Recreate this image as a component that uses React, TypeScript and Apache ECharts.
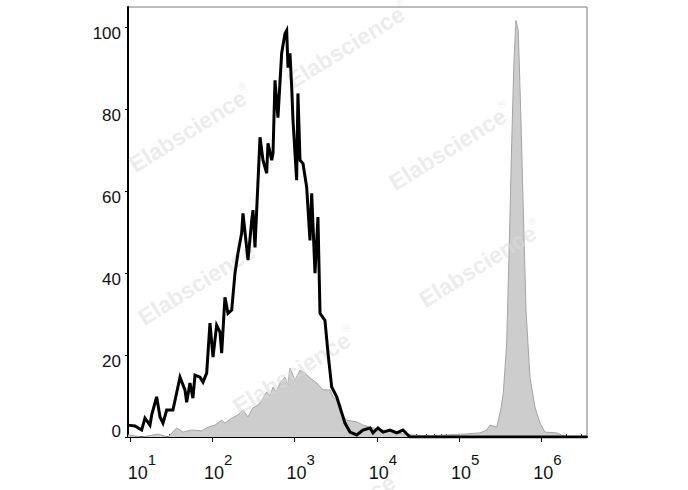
import React, { useEffect, useRef } from "react";
import * as echarts from "echarts";

// x = log10(fluorescence intensity), y = cell count (% of max)
const controlCurve: [number, number][] = [
  [0.976, 2.9], [1.061, 2.7], [1.142, 1.7], [1.182, 4.6], [1.243, 2.9], [1.264, 5.4],
  [1.324, 9.8], [1.365, 4.9], [1.401, 3.4], [1.446, 6.6], [1.522, 6.6], [1.608, 14.6],
  [1.668, 11.5], [1.689, 8.5], [1.729, 13.2], [1.765, 9.5], [1.79, 15.1], [1.851, 14.6],
  [1.887, 13.4], [1.932, 15.6], [1.972, 27.8], [2.009, 19.5], [2.053, 27.3], [2.094, 25.6],
  [2.114, 20.5], [2.154, 34.1], [2.191, 30.2], [2.236, 31.0], [2.276, 40.0], [2.312, 44.9],
  [2.357, 49.8], [2.373, 54.6], [2.434, 43.2], [2.479, 52.9], [2.495, 55.4], [2.519, 46.3],
  [2.58, 73.2], [2.616, 67.6], [2.661, 64.4], [2.677, 71.7], [2.722, 67.6], [2.738, 69.3],
  [2.762, 87.1], [2.798, 78.0], [2.843, 93.7], [2.883, 98.5], [2.904, 99.3], [2.92, 90.2],
  [2.944, 93.7], [2.965, 85.4], [2.981, 77.3], [3.025, 62.7], [3.041, 83.9], [3.066, 67.6],
  [3.102, 66.8], [3.147, 61.0], [3.187, 48.0], [3.208, 59.5], [3.248, 40.0], [3.284, 53.7],
  [3.309, 30.2], [3.369, 28.5], [3.406, 20.5], [3.451, 12.2], [3.512, 9.8], [3.552, 7.3],
  [3.612, 3.4], [3.673, 1.2], [3.755, 0.5], [3.831, 1.7], [3.916, 2.2], [3.953, 1.0],
  [4.013, 2.2], [4.074, 1.2], [4.159, 1.7], [4.241, 1.0], [4.317, 1.7], [4.402, 0],
  [6.553, 0],
];

const stainedCurve: [number, number][] = [
  [0.976, 0.5], [1.142, 0], [1.34, 0.7], [1.462, 0], [1.567, 2.2], [1.644, 1.2],
  [1.75, 1.7], [1.871, 1.5], [1.948, 2.4], [2.033, 2.9], [2.114, 4.1], [2.154, 3.4],
  [2.236, 4.6], [2.312, 5.4], [2.373, 6.6], [2.434, 4.9], [2.495, 7.1], [2.555, 7.8],
  [2.604, 9.0], [2.661, 11.0], [2.701, 10.0], [2.738, 12.2], [2.774, 11.0], [2.823, 13.2],
  [2.883, 14.6], [2.92, 12.7], [2.944, 16.8], [3.005, 13.9], [3.066, 16.3], [3.126, 15.6],
  [3.187, 14.4], [3.269, 13.2], [3.345, 11.5], [3.43, 11.5], [3.467, 9.8], [3.512, 9.0],
  [3.552, 6.1], [3.633, 4.1], [3.755, 3.7], [3.831, 2.9], [3.916, 2.4], [4.074, 1.7],
  [4.241, 1.0], [4.402, 0.5], [4.645, 0.3], [5.046, 0.7], [5.253, 1.0], [5.334, 1.7],
  [5.374, 2.9], [5.456, 2.4], [5.504, 6.6], [5.536, 10.7], [5.577, 22.9], [5.609, 47.3],
  [5.638, 71.7], [5.666, 92.0], [5.69, 101.7], [5.718, 99.3], [5.747, 79.8], [5.779, 55.4],
  [5.812, 31.0], [5.86, 14.6], [5.921, 7.3], [5.982, 3.4], [6.042, 1.2], [6.185, 1.0],
  [6.261, 0.3], [6.35, 0], [6.553, 0],
];

const decadeTicks = [1, 2, 3, 4, 5, 6];
const countTicks = [0, 20, 40, 60, 80, 100];

const X_MIN = 0.976;
const X_MAX = 6.553;

const minorTicks: number[] = [];
for (const d of [0, 1, 2, 3, 4, 5, 6]) {
  for (let k = 2; k <= 9; k++) {
    const v = d + Math.log10(k);
    if (v > X_MIN && v < X_MAX) minorTicks.push(v);
  }
}

const FONT = "'Liberation Sans', Arial, sans-serif";

const watermarks: [number, number][] = [
  [190, 128], [348, 44], [450, 146], [480, 263], [199, 281], [294, 370], [339, 512],
];

export default function App() {
  const ref = useRef<HTMLDivElement>(null);
  useEffect(() => {
    if (!ref.current) return;
    const chart = echarts.init(ref.current, null, { renderer: "svg" });
    chart.setOption({
      animation: false,
      backgroundColor: "#ffffff",
      grid: {
        left: 128,
        top: 7,
        right: 101,
        bottom: 53,
        show: true,
        borderColor: "#7a7a7a",
        borderWidth: 1,
        backgroundColor: "transparent",
      },
      xAxis: [
        {
          type: "value",
          min: X_MIN,
          max: X_MAX,
          splitLine: { show: false },
          axisLine: { show: true, onZero: false, lineStyle: { color: "#000", width: 2 } },
          axisTick: {
            show: true,
            customValues: decadeTicks,
            length: 5,
            lineStyle: { color: "#000", width: 1 },
          },
          axisLabel: {
            customValues: decadeTicks,
            margin: 15,
            align: "center",
            padding: [0, 0, 0, 12],
            formatter: (v: number) =>
              Math.round(v) === 1
                ? `{p| }{b|10}{s|${Math.round(v)}}`
                : `{b|10}{s|${Math.round(v)}}`,
            rich: {
              p: { width: 12, fontSize: 18 },
              b: { fontSize: 18, fontFamily: FONT, color: "#111", lineHeight: 30, verticalAlign: "bottom" },
              s: { fontSize: 15, fontFamily: FONT, color: "#111", lineHeight: 30, verticalAlign: "top" },
            },
          },
        },
        {
          type: "value",
          min: X_MIN,
          max: X_MAX,
          position: "bottom",
          splitLine: { show: false },
          axisLine: { show: false, onZero: false },
          axisLabel: { show: false },
          axisTick: {
            show: true,
            inside: true,
            customValues: minorTicks,
            length: 3,
            lineStyle: { color: "#333", width: 1 },
          },
        },
      ],
      yAxis: {
        type: "value",
        min: 0,
        max: 105,
        splitLine: { show: false },
        axisLine: { show: true, onZero: false, lineStyle: { color: "#000", width: 2 } },
        axisTick: { show: true, customValues: countTicks, length: 3, lineStyle: { color: "#000" } },
        axisLabel: {
          customValues: countTicks,
          margin: 7,
          formatter: (v: number) => (v === 0 ? `{z|0}` : `{n|${v}}`),
          rich: {
            n: { fontSize: 17, fontFamily: FONT, color: "#111", padding: [12, 0, 0, 0] },
            z: { fontSize: 17, fontFamily: FONT, color: "#111", padding: [0, 0, 12, 0] },
          },
        },
      },
      series: [
        {
          name: "Stained",
          type: "line",
          data: stainedCurve,
          showSymbol: false,
          symbol: "none",
          z: 2,
          lineStyle: { color: "#a3a3a3", width: 1 },
          areaStyle: { color: "#cdcdcd", opacity: 1, origin: "start" },
        },
        {
          name: "Control",
          type: "line",
          data: controlCurve,
          showSymbol: false,
          symbol: "none",
          z: 5,
          lineStyle: { color: "#000", width: 3, join: "miter" },
        },
      ],
      graphic: watermarks.map(([x, y]) => ({
        type: "text",
        x,
        y,
        rotation: (32 * Math.PI) / 180,
        z: 3,
        silent: true,
        style: {
          text: "{a|Elabscience}{r|®}",
          align: "center",
          verticalAlign: "middle",
          rich: {
            a: { fontSize: 23, fontWeight: "bold", fontFamily: FONT, fill: "rgba(220,220,220,0.55)", verticalAlign: "bottom", lineHeight: 26 },
            r: { fontSize: 10, fontFamily: FONT, fill: "rgba(220,220,220,0.55)", verticalAlign: "top", lineHeight: 26 },
          },
        },
      })),
    });
    return () => chart.dispose();
  }, []);
  return (
    <div
      ref={ref}
      style={{ position: "fixed", left: 0, top: 0, width: 688, height: 490 }}
    />
  );
}
